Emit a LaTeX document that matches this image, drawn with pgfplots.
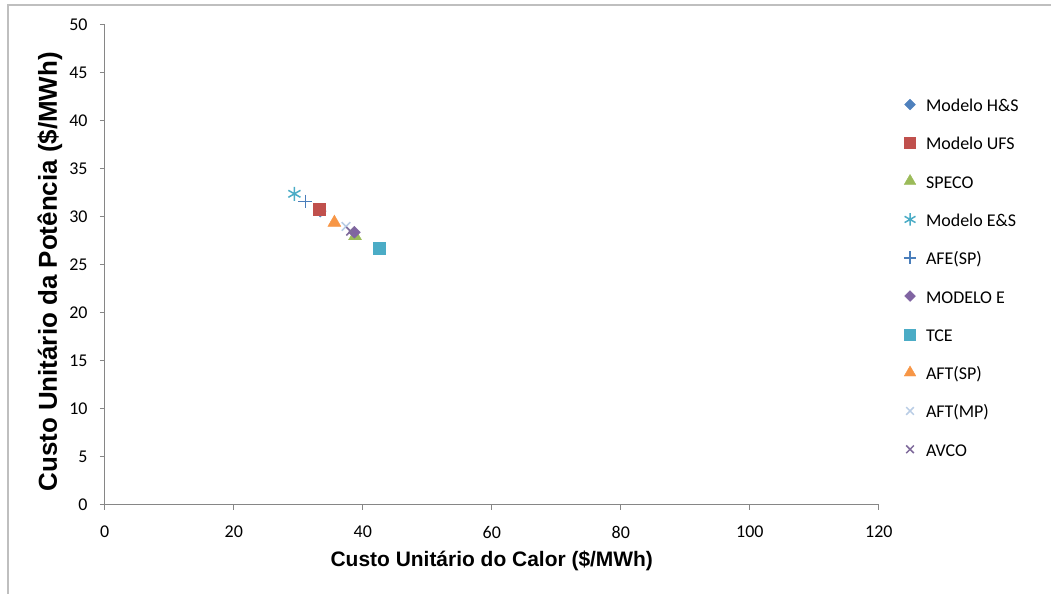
\documentclass[border=0pt]{standalone}
\usepackage{pgfplots}
\pgfplotsset{compat=1.18}
\usepackage{fontspec}
\setmainfont{Carlito}
\newfontfamily\arialfont{Liberation Sans}
\definecolor{cHS}{HTML}{4F81BD}
\definecolor{cUFS}{HTML}{C0504D}
\definecolor{cSPECO}{HTML}{9BBB59}
\definecolor{cES}{HTML}{4BACC6}
\definecolor{cAFE}{HTML}{4A7EBB}
\definecolor{cME}{HTML}{8064A2}
\definecolor{cTCE}{HTML}{4BACC6}
\definecolor{cAFTSP}{HTML}{F79646}
\definecolor{cAFTMP}{HTML}{B9CDE5}
\definecolor{cAVCO}{HTML}{7F6A9B}
\definecolor{axgray}{HTML}{868686}
\definecolor{framegray}{HTML}{BFBFBF}
\begin{document}
\begin{tikzpicture}[x=1bp,y=1bp]
\path (0,0) rectangle (1052,593);
\draw[color=framegray, line width=1.2bp] (8,-2) -- (8,588) -- (1054,588);
\begin{axis}[
  at={(105bp,87bp)}, anchor=south west,
  width=776bp, height=481bp, scale only axis,
  xmin=0, xmax=120, ymin=0, ymax=50,
  xtick={0,20,...,120}, ytick={0,5,...,50},
  axis lines=left,
  axis line style={-, draw=axgray, line width=1bp},
  tick style={draw=axgray, line width=1bp},
  tick align=outside, major tick length=5bp,
  /pgf/number format/assume math mode=true,
  ticklabel style={font=\fontsize{18bp}{20bp}\selectfont, text=black},
  yticklabel style={anchor=east, inner sep=0pt, xshift=-12bp},
  xticklabel style={anchor=north, inner sep=0pt, yshift=-16bp},
  xlabel={Custo Unitário do Calor (\$/MWh)},
  ylabel={Custo Unitário da Potência (\$/MWh)},
  xlabel style={at={(axis description cs:0.5,-0.1164)}, anchor=center, inner sep=0pt,
    font=\arialfont\bfseries\fontsize{21bp}{24bp}\selectfont},
  ylabel style={at={(axis description cs:-0.0709,0.4855)}, anchor=center, inner sep=0pt,
    font=\arialfont\bfseries\fontsize{26bp}{30bp}\selectfont},
  legend cell align=left,
  legend image code/.code={%
    \path[draw=none, fill=none] (-6bp,0bp) rectangle (16bp,12bp);
    \begin{scope}[every mark/.append style={scale=0.9}]
    \draw[#1] plot coordinates {(0bp,3bp)};
    \end{scope}},
  legend style={draw=none, fill=none, inner sep=0pt, outer sep=0pt,
    at={(axis description cs:1.0322,0.8528)}, anchor=north west,
    font=\fontsize{18bp}{20bp}\selectfont,
    nodes={inner sep=0pt, text height=12bp, text depth=4bp},
    row sep=18.4bp},
]
\addplot[only marks, mark=diamond*, mark size=6bp, color=cHS, mark options={xscale=1.333}]
  coordinates {(33.4,30.6)};
\addlegendentry{Modelo H\&S}
\addplot[only marks, mark=square*, mark size=6bp, color=cUFS]
  coordinates {(33.2,30.8)};
\addlegendentry{Modelo UFS}
\addplot[only marks, mark=triangle*, mark size=7.5bp, color=cSPECO]
  coordinates {(38.8,28.0)};
\addlegendentry{SPECO}
\addplot[only marks, mark=asterisk, mark size=7bp, color=cES, line width=1.5bp]
  coordinates {(29.4,32.4)};
\addlegendentry{Modelo E\&S}
\addplot[only marks, mark=+, mark size=7bp, color=cAFE, line width=1.5bp]
  coordinates {(31.1,31.6)};
\addlegendentry{AFE(SP)}
\addplot[only marks, mark=diamond*, mark size=6bp, color=cME, mark options={xscale=1.333}]
  coordinates {(38.7,28.4)};
\addlegendentry{MODELO E}
\addplot[only marks, mark=square*, mark size=6bp, color=cTCE]
  coordinates {(42.5,26.7)};
\addlegendentry{TCE}
\addplot[only marks, mark=triangle*, mark size=7.5bp, color=cAFTSP]
  coordinates {(35.6,29.4)};
\addlegendentry{AFT(SP)}
\addplot[only marks, mark=x, mark size=6bp, color=cAFTMP, line width=1.5bp]
  coordinates {(37.4,29.0)};
\addlegendentry{AFT(MP)}
\addplot[only marks, mark=x, mark size=6bp, color=cAVCO, line width=1.5bp]
  coordinates {(38.1,28.5)};
\addlegendentry{AVCO}
\end{axis}
\end{tikzpicture}
\end{document}
